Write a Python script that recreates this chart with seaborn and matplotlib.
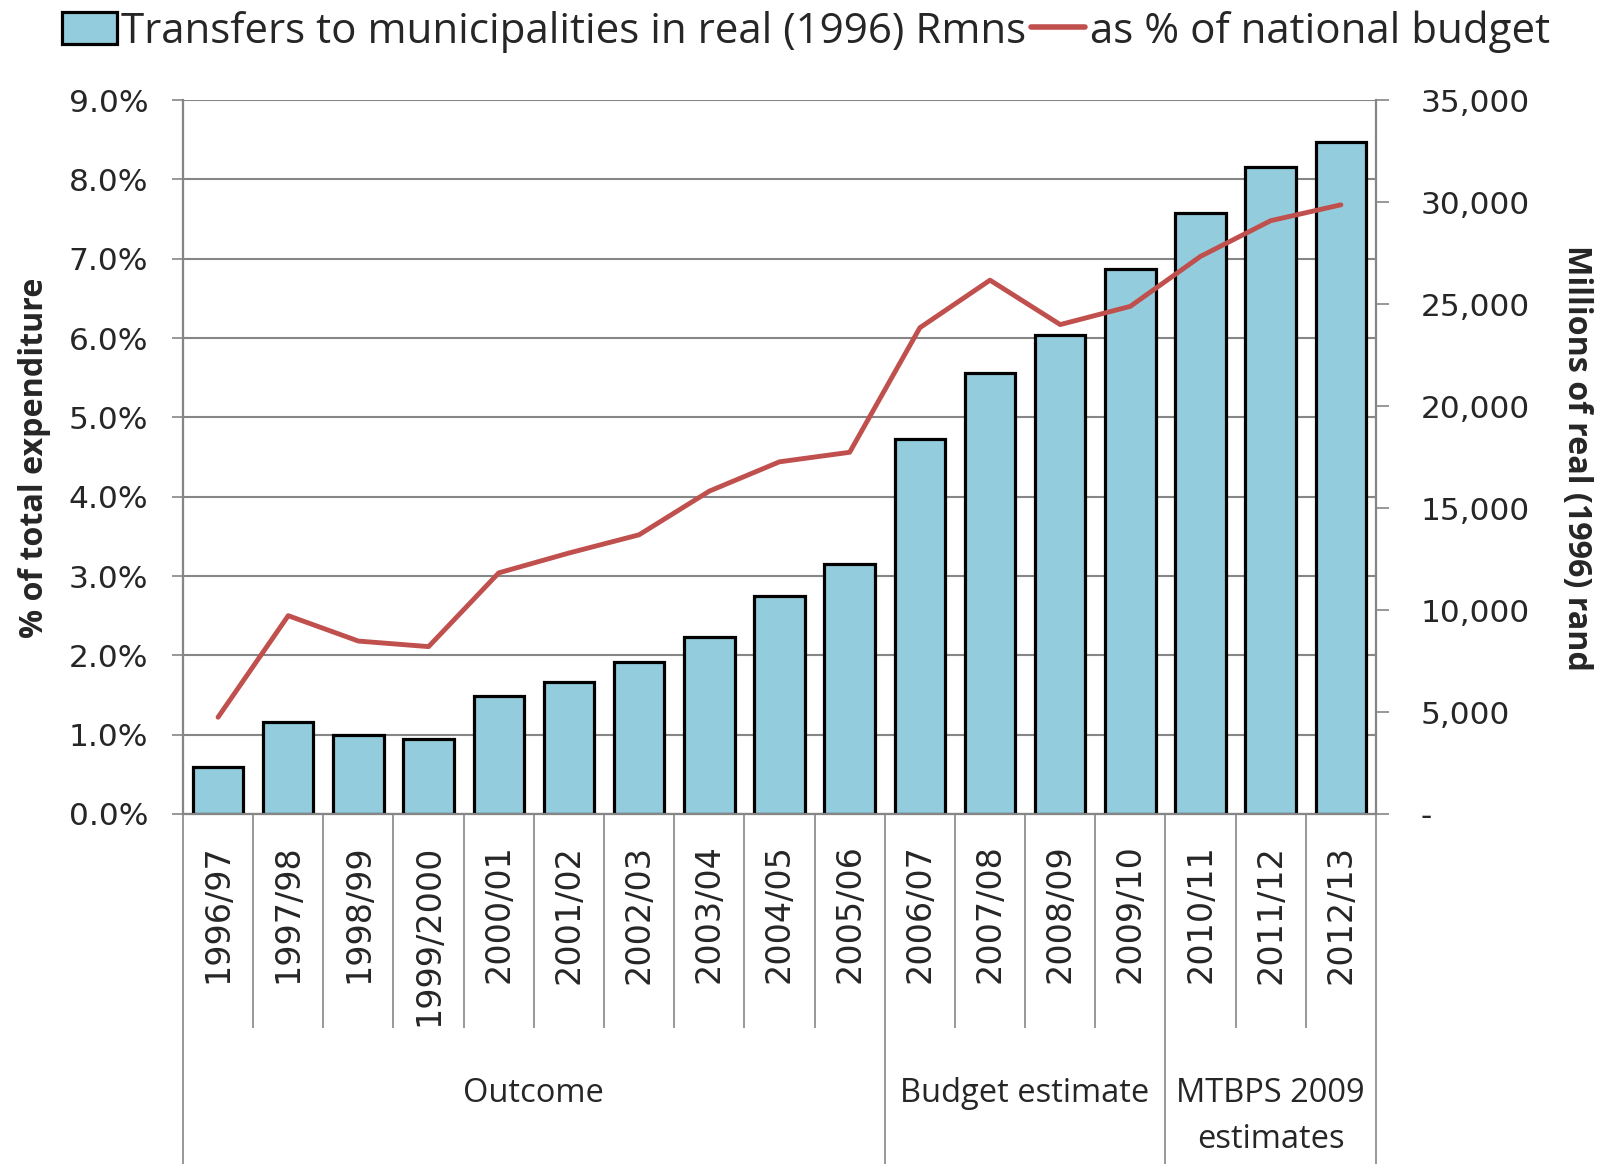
import matplotlib as mpl
mpl.use("Agg")
import matplotlib.pyplot as plt
import matplotlib.ticker as mticker
from matplotlib.patches import Patch
from matplotlib.lines import Line2D
import seaborn as sns
import numpy as np

periods = [
    "1996/97", "1997/98", "1998/99", "1999/2000", "2000/01", "2001/02",
    "2002/03", "2003/04", "2004/05", "2005/06", "2006/07", "2007/08",
    "2008/09", "2009/10", "2010/11", "2011/12", "2012/13",
]
# real (1996) Rmns, right axis
transfers = [2290, 4500, 3890, 3690, 5770, 6450, 7440, 8670, 10670, 12240,
             18400, 21600, 23480, 26700, 29460, 31700, 32940]
# % of national budget, left axis
share_pct = [1.22, 2.50, 2.18, 2.11, 3.04, 3.29, 3.52, 4.07, 4.44, 4.56,
             6.13, 6.73, 6.17, 6.40, 7.03, 7.48, 7.68]

groups = ["Outcome", "Budget estimate", "MTBPS 2009\nestimates"]
group_sizes = [10, 4, 3]

bar_color = "#93CDDD"
line_color = "#C0504D"
grey = "#868686"
narrow = ["Open Sans", "DejaVu Sans"]

sns.set_style("white")
plt.rcParams["font.family"] = ["DejaVu Sans"]

fig = plt.figure(figsize=(16.12, 11.64), dpi=100)
ax = fig.add_axes([0.1135, 0.3007, 0.7401, 0.6133])   # % axis + gridlines
ax_bar = ax.twinx()                                   # rand bars
ax_line = ax.twinx()                                  # % line on top

sns.barplot(x=periods, y=transfers, ax=ax_bar, color=bar_color, saturation=1,
            edgecolor="black", linewidth=2.3, width=0.72)
sns.lineplot(x=np.arange(len(periods)), y=share_pct, ax=ax_line,
             color=line_color, linewidth=3.5)

n = len(periods)
ax.set_xlim(-0.5, n - 0.5)
ax.set_ylim(0, 9)
ax_line.set_ylim(0, 9)
ax_bar.set_ylim(0, 35000)

# left axis
ax.set_yticks(np.arange(0, 10, 1))
ax.yaxis.set_major_formatter(mticker.FuncFormatter(lambda v, p: f"{v:.1f}%"))
ax.grid(axis="y", color=grey, linewidth=1.5)
ax.tick_params(axis="y", left=True, length=8, width=1.2, color=grey,
               labelsize=22.5, pad=17)

# right axis
ax_bar.set_yticks(np.arange(0, 35001, 5000))
ax_bar.yaxis.set_major_formatter(
    mticker.FuncFormatter(lambda v, p: "-" if v == 0 else f"{v:,.0f}"))
ax_bar.tick_params(axis="y", right=True, length=9, width=1.2, color=grey,
                   labelsize=22.5, pad=23)
ax_bar.set_ylabel("")
ax_line.set_yticks([])
ax_line.set_ylabel("")

# x axis
ax.set_xticks(np.arange(n))
ax.set_xticklabels(periods, rotation=90, va="top", ha="center")
ax.tick_params(axis="x", bottom=False, length=0, labelsize=24, pad=22)

for a in (ax, ax_bar, ax_line):
    a.spines["top"].set_visible(False)
    for s in ("left", "right", "bottom"):
        a.spines[s].set_color(grey)
        a.spines[s].set_linewidth(1.5)

# category separators and group separators
bounds = np.arange(n + 1) - 0.5
edges = np.concatenate([[0], np.cumsum(group_sizes)]) - 0.5
inner = [b for b in bounds if b not in edges]
xtr = ax.get_xaxis_transform()
ax.vlines(inner, -0.30, 0, transform=xtr, clip_on=False, color=grey, linewidth=1.2)
ax.vlines(edges, -0.49, 0, transform=xtr, clip_on=False, color=grey, linewidth=1.2)

start = 0
for g, size in zip(groups, group_sizes):
    ax.text(start + (size - 1) / 2, -0.368, g, transform=xtr, ha="center",
            va="top", fontsize=23.5, family=narrow, linespacing=1.55)
    start += size

# axis titles
fig.text(0.0215, 0.607, "% of total expenditure", rotation=90, ha="center",
         va="center", fontsize=23.2, fontweight="bold", family=narrow)
fig.text(0.978, 0.607, "Millions of real (1996) rand", rotation=270,
         ha="center", va="center", fontsize=23.2, fontweight="bold", family=narrow)

handles = [
    Patch(facecolor=bar_color, edgecolor="black", linewidth=2.3),
    Line2D([], [], color=line_color, linewidth=4),
]
labels = ["Transfers to municipalities in real (1996) Rmns",
          "as % of national budget"]
fig.legend(handles, labels, loc="center", bbox_to_anchor=(0.5, 0.973),
           ncol=2, frameon=False, prop={"family": narrow, "size": 30.3},
           handlelength=1.3, handleheight=0.8, handletextpad=0.1,
           columnspacing=0.1, borderaxespad=0)

fig.savefig("out.png", dpi=100)
